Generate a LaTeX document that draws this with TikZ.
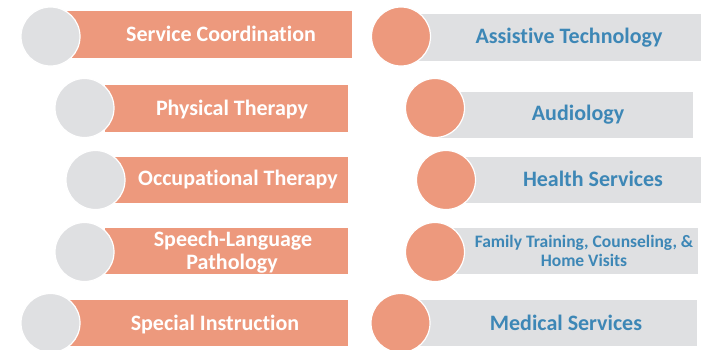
\documentclass[tikz,border=0pt]{standalone}
\usepackage{fontspec}
\setmainfont{Carlito}[Ligatures=NoCommon]
\definecolor{salmon}{HTML}{ED997D}
\definecolor{lgrey}{HTML}{DFE0E2}
\definecolor{tblue}{HTML}{3D87B6}
\tikzset{
  bar/.style={rectangle, inner sep=0pt, draw=none},
  sbar/.style={bar, fill=salmon},
  gbar/.style={bar, fill=lgrey},
  disc/.style={circle, inner sep=0pt, minimum size=59pt, draw=white, line width=1.2pt},
  gdisc/.style={disc, fill=lgrey},
  sdisc/.style={disc, fill=salmon},
  wtxt/.style={text=white, font=\fontsize{22}{23}\selectfont\bfseries, inner sep=0pt, anchor=base},
  btxt/.style={text=tblue, font=\fontsize{22}{23}\selectfont\bfseries, inner sep=0pt, anchor=base},
  stxt/.style={btxt, font=\fontsize{17.5}{19}\selectfont\bfseries},
}
\begin{document}
\begin{tikzpicture}[x=1pt,y=-1pt]
\useasboundingbox (0,0) rectangle (701,349);
% left column
\node[sbar, minimum width=285pt, minimum height=47pt] (L1r) at (209.5,34.5) {};
\node[gdisc] (L1c) at (50.5,36.5) {};
\node[wtxt] (L1t) at (221,41) {Service Coordination};

\node[sbar, minimum width=243pt, minimum height=47pt] (L2r) at (226.5,108.5) {};
\node[gdisc] (L2c) at (84.5,108) {};
\node[wtxt] (L2t) at (232,115) {Physical Therapy};

\node[sbar, minimum width=233pt, minimum height=46pt] (L3r) at (231.5,180) {};
\node[gdisc] (L3c) at (95.5,180) {};
\node[wtxt] (L3t) at (238,185) {Occupational Therapy};

\node[sbar, minimum width=243pt, minimum height=46pt] (L4r) at (226.5,251) {};
\node[gdisc] (L4c) at (84.5,252) {};
\node[wtxt] (L4t) at (233,246.7) {Speech-Language};
\node[wtxt] (L4u) at (232,269) {Pathology};

\node[sbar, minimum width=281pt, minimum height=46pt] (L5r) at (207.5,323) {};
\node[gdisc] (L5c) at (50.5,323) {};
\node[wtxt] (L5t) at (215,330) {Special Instruction};

% right column
\node[gbar, minimum width=300pt, minimum height=47pt] (R1r) at (551,37.5) {};
\node[sdisc] (R1c) at (401,36.5) {};
\node[btxt] (R1t) at (569,43.3) {Assistive Technology};

\node[gbar, minimum width=258pt, minimum height=46pt] (R2r) at (564,115) {};
\node[sdisc] (R2c) at (435,108) {};
\node[btxt] (R2t) at (578,120.7) {Audiology};

\node[gbar, minimum width=255pt, minimum height=46pt] (R3r) at (573.5,180) {};
\node[sdisc] (R3c) at (446,180) {};
\node[btxt] (R3t) at (593,186) {Health Services};

\node[gbar, minimum width=263pt, minimum height=46pt] (R4r) at (566.5,251) {};
\node[sdisc] (R4c) at (435,252) {};
\node[stxt] (R4t) at (584,247.3) {Family Training, Counseling, \&};
\node[stxt] (R4u) at (584,266) {Home Visits};

\node[gbar, minimum width=297pt, minimum height=46pt] (R5r) at (548.5,323) {};
\node[sdisc] (R5c) at (400.5,323) {};
\node[btxt] (R5t) at (566,330) {Medical Services};
\end{tikzpicture}
\end{document}
